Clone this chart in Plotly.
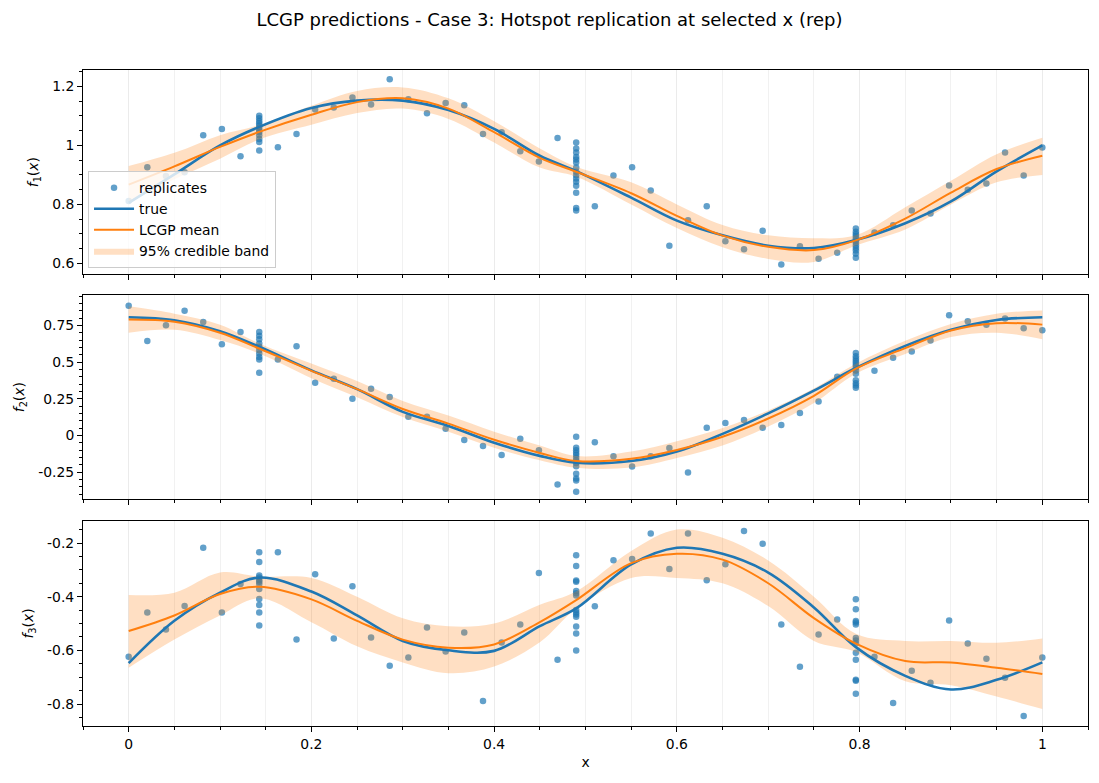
import plotly.graph_objects as go

# ---------------- data ----------------
x_design = [0.0, 0.0204, 0.0408, 0.0612, 0.0816, 0.102, 0.1224, 0.1429, 0.1633, 0.1837,
            0.2041, 0.2245, 0.2449, 0.2653, 0.2857, 0.3061, 0.3265, 0.3469, 0.3673, 0.3878,
            0.4082, 0.4286, 0.449, 0.4694, 0.4898, 0.5102, 0.5306, 0.551, 0.5714, 0.5918,
            0.6122, 0.6327, 0.6531, 0.6735, 0.6939, 0.7143, 0.7347, 0.7551, 0.7755, 0.7959,
            0.8163, 0.8367, 0.8571, 0.8776, 0.898, 0.9184, 0.9388, 0.9592, 0.9796, 1.0]
x_hot = [0.1429, 0.4898, 0.7959]

y1_design = [0.812, 0.926, 0.896, 0.909, 1.035, 1.056, 0.963, None, 0.994, 1.039,
             1.122, 1.129, 1.163, 1.139, 1.225, 1.157, 1.109, 1.144, 1.136, 1.039,
             1.045, 0.980, 0.946, 1.025, None, 0.794, 0.898, 0.926, 0.847, 0.660,
             0.746, 0.794, 0.675, 0.648, 0.711, 0.596, 0.658, 0.616, 0.636, None,
             0.705, 0.729, 0.779, 0.769, 0.864, 0.850, 0.871, 0.976, 0.898, 0.993]
y1_hot1 = [1.101, 1.092, 1.083, 1.075, 1.068, 1.060, 1.052, 1.045, 1.035, 1.022, 1.012, 0.983]
y1_hot2 = [1.010, 0.990, 0.976, 0.961, 0.952, 0.942, 0.925, 0.911, 0.899, 0.888, 0.877, 0.863,
           0.840, 0.788, 0.779]
y1_hot3 = [0.718, 0.707, 0.700, 0.693, 0.685, 0.678, 0.670, 0.661, 0.652, 0.644, 0.633, 0.619]

y2_design = [0.883, 0.643, 0.750, 0.849, 0.773, 0.622, 0.704, None, 0.517, 0.608,
             0.359, 0.386, 0.249, 0.317, 0.262, 0.127, 0.127, 0.045, -0.031, -0.072,
             -0.134, -0.024, -0.102, -0.336, None, -0.047, -0.143, -0.212, -0.143, -0.086,
             -0.253, 0.052, 0.084, 0.105, 0.052, 0.070, 0.152, 0.230, 0.400, None,
             0.441, 0.530, 0.572, 0.647, 0.819, 0.778, 0.755, 0.796, 0.730, 0.716]
y2_hot1 = [0.704, 0.679, 0.656, 0.627, 0.604, 0.581, 0.558, 0.535, 0.517, 0.427]
y2_hot2 = [-0.010, -0.084, -0.102, -0.118, -0.134, -0.152, -0.171, -0.189, -0.210, -0.262,
           -0.295, -0.308, -0.384]
y2_hot3 = [0.562, 0.539, 0.523, 0.507, 0.494, 0.478, 0.462, 0.443, 0.420, 0.375, 0.356,
           0.340, 0.324]

y3_design = [-0.624, -0.459, -0.522, -0.435, -0.218, -0.459, -0.353, None, -0.234, -0.560,
             -0.316, -0.556, -0.361, -0.552, -0.657, -0.627, -0.515, -0.604, -0.534, -0.789,
             -0.571, -0.504, -0.312, -0.635, None, -0.436, -0.264, -0.260, -0.165, -0.297,
             -0.165, -0.339, -0.279, -0.155, -0.203, -0.504, -0.661, -0.541, -0.485, None,
             -0.624, -0.796, -0.676, -0.721, -0.489, -0.575, -0.631, -0.702, -0.845, -0.627]
y3_hot1 = [-0.234, -0.271, -0.321, -0.329, -0.338, -0.344, -0.353, -0.371, -0.409, -0.431,
           -0.459, -0.507]
y3_hot2 = [-0.246, -0.286, -0.340, -0.344, -0.379, -0.387, -0.396, -0.450, -0.459, -0.466,
           -0.475, -0.511, -0.537, -0.601]
y3_hot3 = [-0.410, -0.447, -0.491, -0.496, -0.504, -0.554, -0.563, -0.575, -0.609, -0.635,
           -0.710, -0.713, -0.762]

x_curve = [0.0, 0.05, 0.1, 0.1429, 0.2, 0.25, 0.3, 0.35, 0.4, 0.45, 0.4898,
           0.55, 0.6, 0.65, 0.7, 0.75, 0.7959, 0.85, 0.9, 0.95, 1.0]

f1_true = [0.805, 0.902, 1.000, 1.063, 1.127, 1.152, 1.152, 1.120, 1.056, 0.965, 0.913,
           0.823, 0.745, 0.695, 0.660, 0.652, 0.679, 0.736, 0.810, 0.912, 1.000]
f1_mean = [0.867, 0.929, 0.995, 1.046, 1.104, 1.147, 1.160, 1.125, 1.045, 0.958, 0.911,
           0.838, 0.761, 0.694, 0.656, 0.645, 0.678, 0.752, 0.840, 0.920, 0.965]
f1_upper = [0.930, 0.975, 1.035, 1.069, 1.135, 1.185, 1.197, 1.160, 1.082, 0.990, 0.928,
            0.875, 0.800, 0.730, 0.695, 0.685, 0.695, 0.790, 0.880, 0.970, 1.026]
f1_lower = [0.805, 0.885, 0.955, 1.020, 1.070, 1.110, 1.125, 1.090, 1.010, 0.925, 0.894,
            0.800, 0.720, 0.655, 0.615, 0.605, 0.661, 0.715, 0.800, 0.875, 0.900]

f2_true = [0.805, 0.785, 0.710, 0.604, 0.443, 0.315, 0.160, 0.064, -0.050, -0.140, -0.187,
           -0.175, -0.110, 0.010, 0.150, 0.305, 0.459, 0.610, 0.720, 0.787, 0.805]
f2_mean = [0.790, 0.775, 0.700, 0.592, 0.440, 0.315, 0.180, 0.080, -0.030, -0.120, -0.175,
           -0.160, -0.100, -0.010, 0.115, 0.270, 0.455, 0.595, 0.715, 0.765, 0.755]
f2_upper = [0.880, 0.830, 0.755, 0.627, 0.490, 0.370, 0.235, 0.135, 0.025, -0.070, -0.141,
            -0.110, -0.040, 0.050, 0.170, 0.320, 0.489, 0.645, 0.760, 0.830, 0.852]
f2_lower = [0.700, 0.720, 0.650, 0.558, 0.390, 0.260, 0.125, 0.025, -0.085, -0.170, -0.221,
            -0.220, -0.155, -0.070, 0.060, 0.220, 0.420, 0.555, 0.670, 0.700, 0.655]

f3_true = [-0.648, -0.490, -0.385, -0.329, -0.381, -0.470, -0.565, -0.600, -0.602, -0.510,
           -0.444, -0.280, -0.218, -0.240, -0.310, -0.440, -0.588, -0.695, -0.746, -0.710, -0.645]
f3_mean = [-0.528, -0.470, -0.390, -0.363, -0.410, -0.490, -0.560, -0.590, -0.578, -0.495,
           -0.413, -0.275, -0.240, -0.262, -0.350, -0.480, -0.575, -0.640, -0.645, -0.665, -0.688]
f3_upper = [-0.394, -0.385, -0.310, -0.325, -0.330, -0.400, -0.480, -0.510, -0.500, -0.430,
            -0.381, -0.230, -0.150, -0.180, -0.265, -0.400, -0.538, -0.565, -0.565, -0.572, -0.556]
f3_lower = [-0.665, -0.560, -0.470, -0.406, -0.495, -0.585, -0.645, -0.685, -0.660, -0.570,
            -0.444, -0.330, -0.330, -0.350, -0.435, -0.565, -0.606, -0.715, -0.730, -0.772, -0.819]

x_ticks = [0, 0.2, 0.4, 0.6, 0.8, 1.0]
x_ticktext = ["0", "0.2", "0.4", "0.6", "0.8", "1"]
y1_ticks = [0.6, 0.8, 1.0, 1.2]
y1_ticktext = ["0.6", "0.8", "1", "1.2"]
y2_ticks = [-0.25, 0, 0.25, 0.5, 0.75]
y2_ticktext = ["-0.25", "0", "0.25", "0.5", "0.75"]
y3_ticks = [-0.8, -0.6, -0.4, -0.2]
y3_ticktext = ["-0.8", "-0.6", "-0.4", "-0.2"]

title_text = "LCGP predictions - Case 3: Hotspot replication at selected x (rep)"
y_titles = ["<i>f</i><sub>1</sub>(<i>x</i>)", "<i>f</i><sub>2</sub>(<i>x</i>)",
            "<i>f</i><sub>3</sub>(<i>x</i>)"]

# ---------------- figure ----------------
BLUE = "#1f77b4"
ORANGE = "#ff7f0e"
BAND = "rgba(255,127,14,0.25)"
FONT = "DejaVu Sans"

panels = [
    (y1_design, [y1_hot1, y1_hot2, y1_hot3], f1_true, f1_mean, f1_upper, f1_lower),
    (y2_design, [y2_hot1, y2_hot2, y2_hot3], f2_true, f2_mean, f2_upper, f2_lower),
    (y3_design, [y3_hot1, y3_hot2, y3_hot3], f3_true, f3_mean, f3_upper, f3_lower),
]

fig = go.Figure()
for k, (yd, hots, ft, fm, fu, fl) in enumerate(panels):
    xa = "x" if k == 0 else f"x{k+1}"
    ya = "y" if k == 0 else f"y{k+1}"
    xs, ys = [], []
    for xv, yv in zip(x_design, yd):
        if yv is not None:
            xs.append(xv)
            ys.append(yv)
    for xh, hv in zip(x_hot, hots):
        xs += [xh] * len(hv)
        ys += hv
    first = (k == 0)
    # points, then band (over points), then lines (over band) -- like matplotlib zorder
    fig.add_trace(go.Scatter(x=xs, y=ys, mode="markers", name="replicates", legendrank=1,
                             marker=dict(color=BLUE, size=6.5, opacity=0.7, line=dict(width=0)),
                             showlegend=first, xaxis=xa, yaxis=ya))
    fig.add_trace(go.Scatter(x=x_curve, y=fl, mode="lines", name="lower",
                             line=dict(color="rgba(0,0,0,0)", width=0, shape="spline", smoothing=1.0),
                             showlegend=False, hoverinfo="skip", xaxis=xa, yaxis=ya))
    fig.add_trace(go.Scatter(x=x_curve, y=fu, mode="lines", name="95% credible band", legendrank=4,
                             line=dict(color="rgba(0,0,0,0)", width=0, shape="spline", smoothing=1.0),
                             fill="tonexty", fillcolor=BAND,
                             showlegend=first, xaxis=xa, yaxis=ya))
    fig.add_trace(go.Scatter(x=x_curve, y=ft, mode="lines", name="true", legendrank=2,
                             line=dict(color=BLUE, width=2.6, shape="spline", smoothing=1.0),
                             showlegend=first, xaxis=xa, yaxis=ya))
    fig.add_trace(go.Scatter(x=x_curve, y=fm, mode="lines", name="LCGP mean", legendrank=3,
                             line=dict(color=ORANGE, width=2.0, shape="spline", smoothing=1.0),
                             showlegend=first, xaxis=xa, yaxis=ya))

tickfont = dict(family=FONT, size=13.9, color="black")
common_x = dict(range=[-0.05, 1.05], tickmode="array", tickvals=x_ticks, ticktext=x_ticktext,
                ticks="outside", ticklen=5, tickwidth=1, tickcolor="black",
                showline=True, linecolor="black", linewidth=1, mirror=True,
                showgrid=True, gridcolor="#ebebeb", gridwidth=1, zeroline=False,
                minor=dict(tickmode="linear", tick0=0, dtick=0.05, ticks="outside", ticklen=3,
                           tickwidth=1, tickcolor="black", showgrid=True,
                           gridcolor="#f1f1f1", gridwidth=1),
                tickfont=tickfont)
common_y = dict(tickmode="array", ticks="outside", ticklen=5, tickwidth=1, tickcolor="black",
                showline=True, linecolor="black", linewidth=1, mirror=True,
                showgrid=False, zeroline=False,
                minor=dict(tickmode="linear", tick0=0, dtick=0.05, ticks="outside", ticklen=3,
                           tickwidth=1, tickcolor="black", showgrid=False),
                tickfont=tickfont)

title_font = dict(family=FONT, size=13.9, color="black")
fig.update_layout(
    width=1099, height=783, autosize=False,
    margin=dict(l=83, r=11, t=70, b=57),
    paper_bgcolor="white", plot_bgcolor="white",
    font=dict(family=FONT, size=13.9, color="black"),
    title=dict(text=title_text, x=0.5, xref="container", y=1 - 20 / 783, yref="container",
               xanchor="center", yanchor="middle", font=dict(family=FONT, size=18, color="black")),
    xaxis=dict(common_x, domain=[0, 1], anchor="y", matches="x3", showticklabels=False),
    xaxis2=dict(common_x, domain=[0, 1], anchor="y2", matches="x3", showticklabels=False),
    xaxis3=dict(common_x, domain=[0, 1], anchor="y3",
                title=dict(text="x", font=title_font, standoff=6)),
    yaxis=dict(common_y, domain=[0.6886, 1.0], anchor="x", range=[0.563, 1.256],
               tickvals=y1_ticks, ticktext=y1_ticktext,
               title=dict(text=y_titles[0], font=title_font, standoff=10)),
    yaxis2=dict(common_y, domain=[0.3456, 0.657], anchor="x2", range=[-0.436, 0.957],
                tickvals=y2_ticks, ticktext=y2_ticktext,
                title=dict(text=y_titles[1], font=title_font, standoff=10)),
    yaxis3=dict(common_y, domain=[0.0, 0.3125], anchor="x3", range=[-0.882, -0.118],
                tickvals=y3_ticks, ticktext=y3_ticktext,
                title=dict(text=y_titles[2], font=title_font, standoff=10)),
    legend=dict(x=0.005, y=0.698, xanchor="left", yanchor="bottom", traceorder="normal",
                bgcolor="rgba(255,255,255,0.8)", bordercolor="#cccccc", borderwidth=1,
                itemwidth=40,
                font=dict(family=FONT, size=13.9, color="black"), tracegroupgap=0),
    showlegend=True,
)

fig.write_html("out.html")
